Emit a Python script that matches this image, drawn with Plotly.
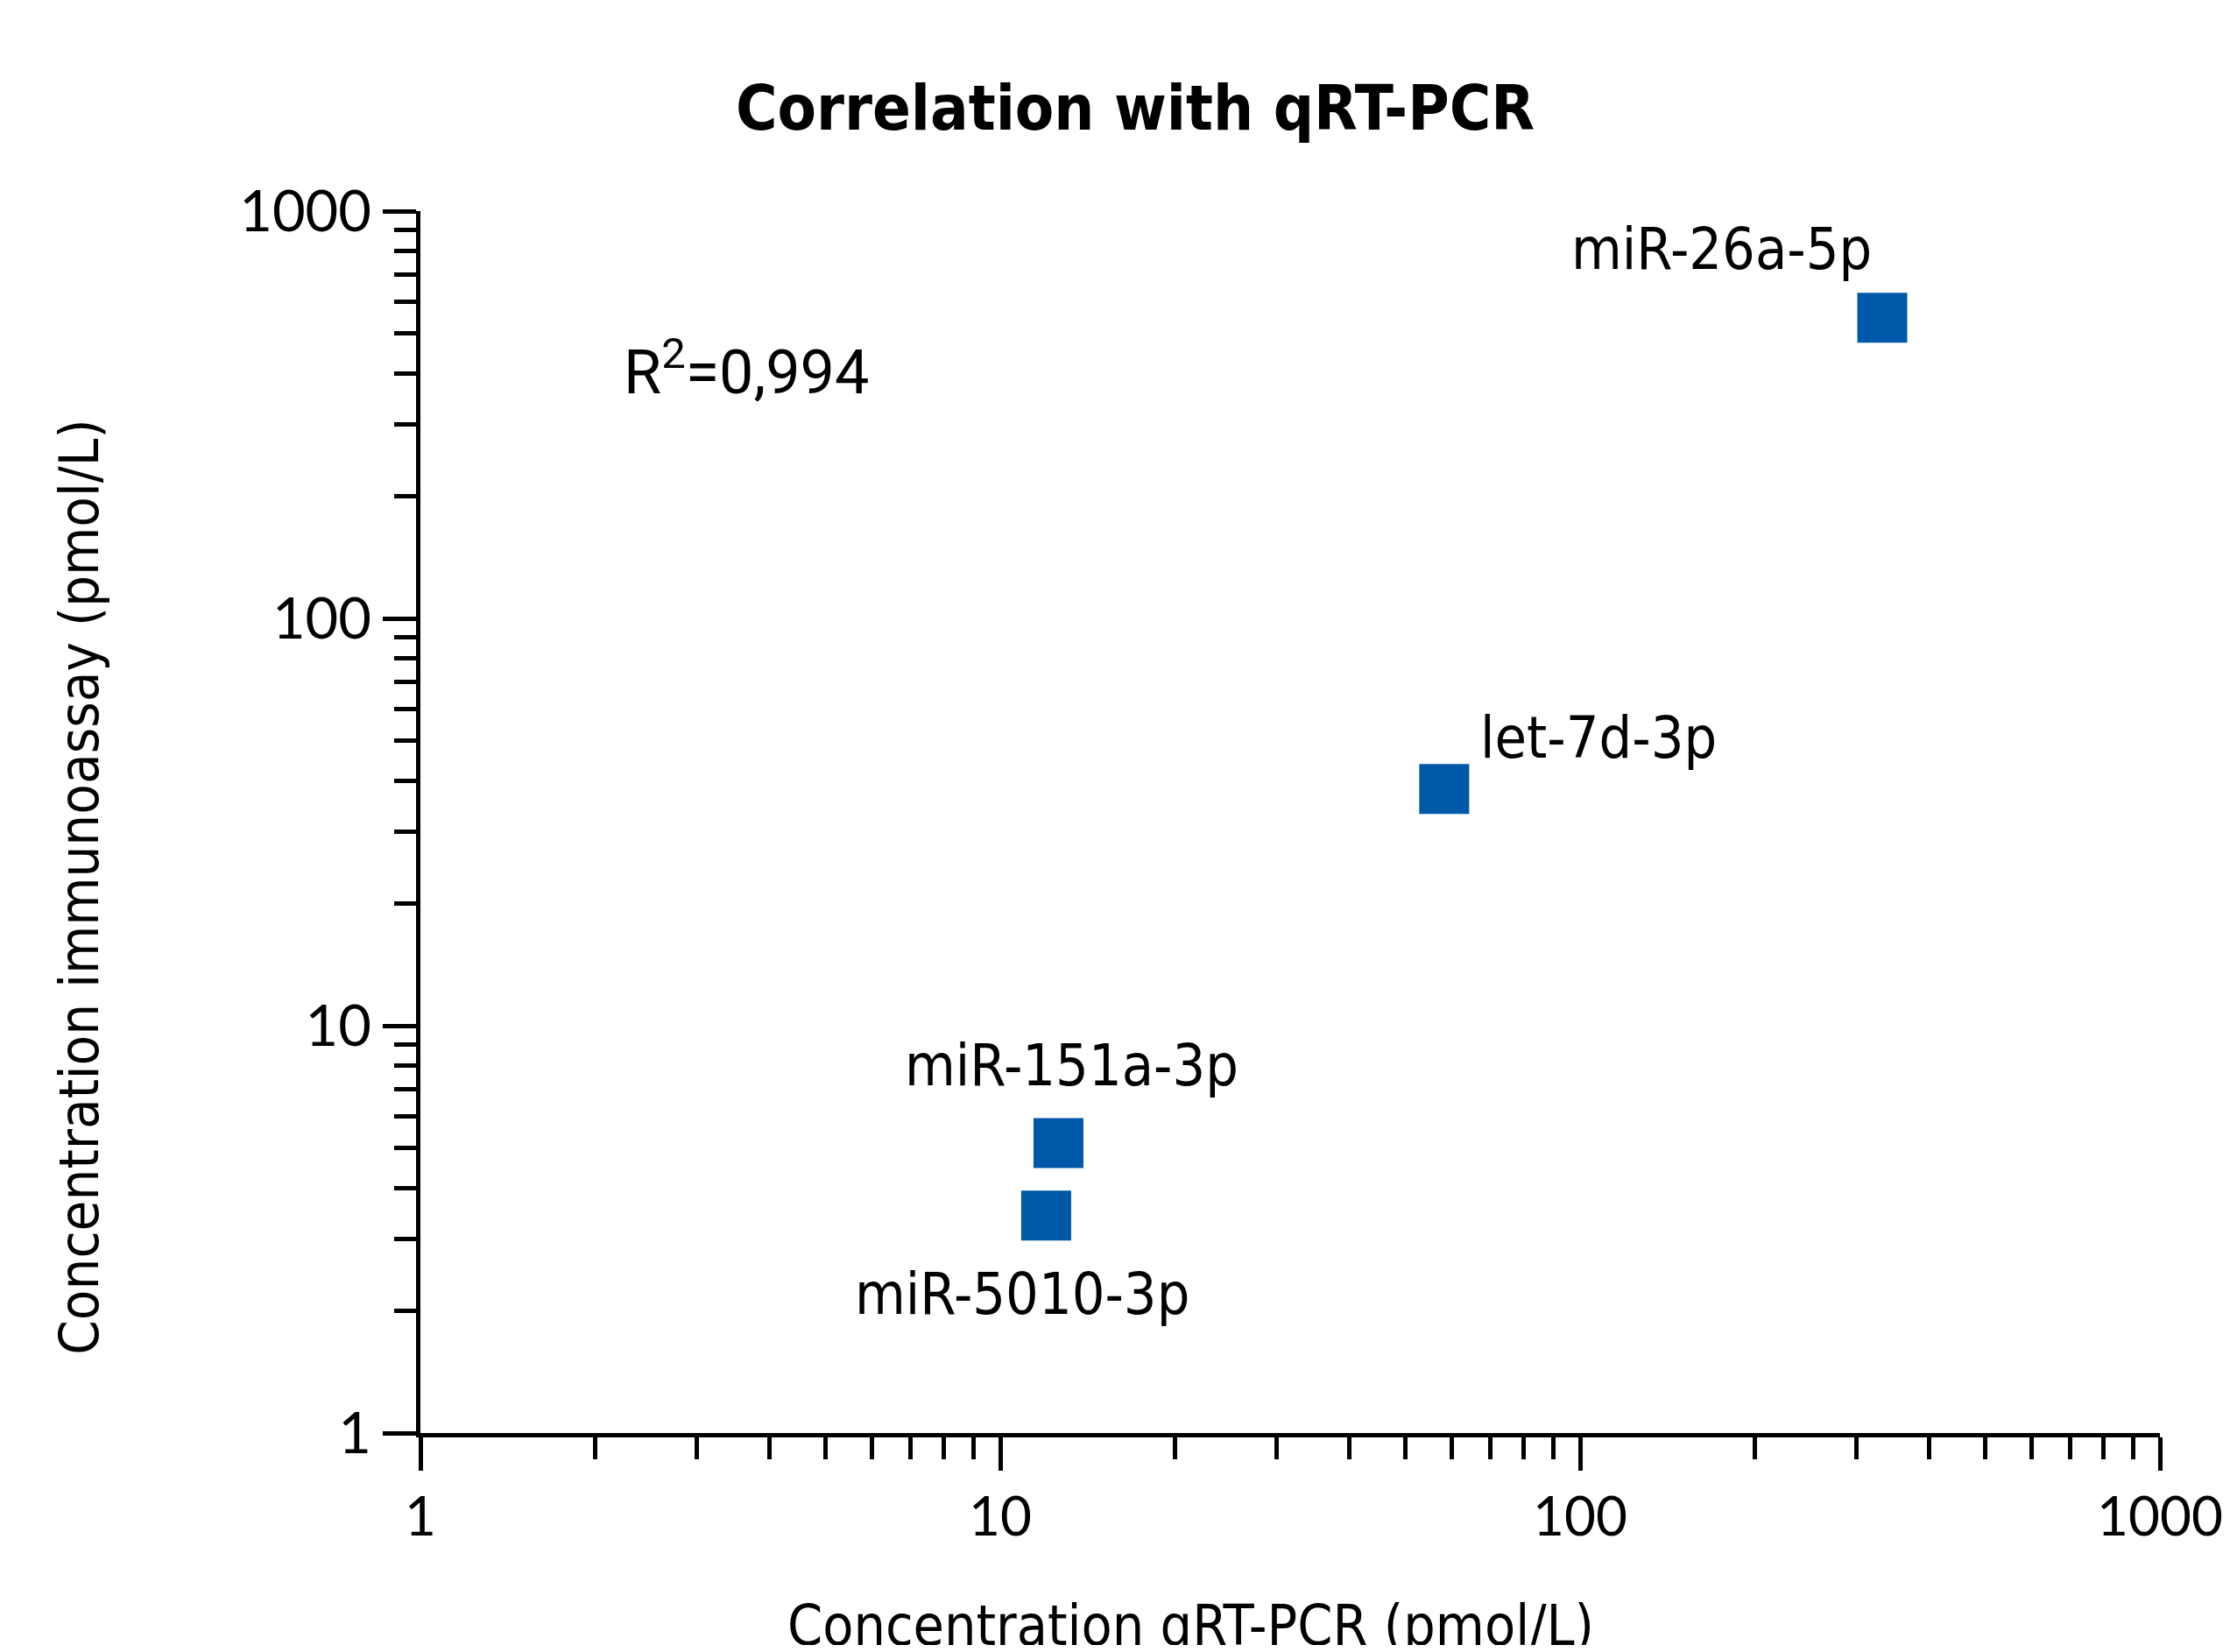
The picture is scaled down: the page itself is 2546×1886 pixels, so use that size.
import numpy as np
import plotly.graph_objects as go

# ---- data ----
mirna_names = ["miR-26a-5p", "let-7d-3p", "miR-151a-3p", "miR-5010-3p"]
conc_qrtpcr = [332.0, 58.3, 12.6, 12.0]        # x, pmol/L
conc_immunoassay = [547.0, 38.1, 5.15, 3.42]   # y, pmol/L
major_tick_vals = [1, 10, 100, 1000]
major_tick_text = ["1", "10", "100", "1000"]
r_squared_text = "R<sup>2</sup>=0,994"

# ---- styles / label placement (pixels) ----
label_offsets = {
    "miR-26a-5p": (-183, 78),
    "let-7d-3p": (176, 58),
    "miR-151a-3p": (15, 89),
    "miR-5010-3p": (-27, -90),
}
marker_color = "#0058A8"
narrow = "DejaVu Sans Condensed, Liberation Sans Narrow, Liberation Sans, sans-serif"
tick_font = "Lato"

minor_vals = [k * 10 ** d for d in range(3) for k in range(2, 10)]

fig = go.Figure()
fig.add_trace(go.Scatter(
    x=conc_qrtpcr, y=conc_immunoassay, mode="markers",
    marker=dict(symbol="square", size=57, color=marker_color, line=dict(width=0)),
    showlegend=False, hoverinfo="skip",
))

annotations = []
for name, xv, yv in zip(mirna_names, conc_qrtpcr, conc_immunoassay):
    dx, dy = label_offsets[name]
    annotations.append(dict(
        x=np.log10(xv), y=np.log10(yv), xref="x", yref="y",
        text=name, showarrow=False, xshift=dx, yshift=dy,
        xanchor="center", yanchor="middle",
        font=dict(family=narrow, size=66, color="black"),
    ))

annotations.append(dict(
    x=0.1158, y=0.8716, xref="paper", yref="paper", text=r_squared_text,
    showarrow=False, xanchor="left", yanchor="middle",
    font=dict(family="Roboto", size=70, color="black"),
))
annotations.append(dict(
    x=0.4426, y=-0.158, xref="paper", yref="paper",
    text="Concentration qRT-PCR (pmol/L)", showarrow=False,
    xanchor="center", yanchor="middle",
    font=dict(family=narrow, size=64, color="black"),
))
annotations.append(dict(
    x=-0.196, y=0.4466, xref="paper", yref="paper",
    text="Concentration immunoassay (pmol/L)", showarrow=False,
    textangle=-90, xanchor="center", yanchor="middle",
    font=dict(family=narrow, size=63, color="black"),
))

axis_common = dict(
    type="log", range=[0, 3], showgrid=False, zeroline=False, automargin=False,
    showline=True, linecolor="black", linewidth=5,
    ticks="outside", ticklen=38, tickwidth=5, tickcolor="black",
    tickvals=major_tick_vals, ticktext=major_tick_text,
    minor=dict(ticks="outside", ticklen=25, tickwidth=5, tickcolor="black",
               tickvals=minor_vals, showgrid=False),
)

fig.update_layout(
    width=2530, height=1870,
    margin=dict(l=472, r=72, t=233, b=242, pad=0, autoexpand=False),
    paper_bgcolor="white", plot_bgcolor="white",
    title=dict(
        text="Correlation with qRT-PCR", x=0.5091, xanchor="center",
        y=0.9385, yanchor="middle",
        font=dict(family=narrow, size=72, color="black", weight="bold"),
    ),
    xaxis=dict(axis_common, tickfont=dict(family=tick_font, size=62, color="black")),
    yaxis=dict(axis_common, tickfont=dict(family=tick_font, size=65, color="black")),
    annotations=annotations,
)

fig.write_html("out.html")
